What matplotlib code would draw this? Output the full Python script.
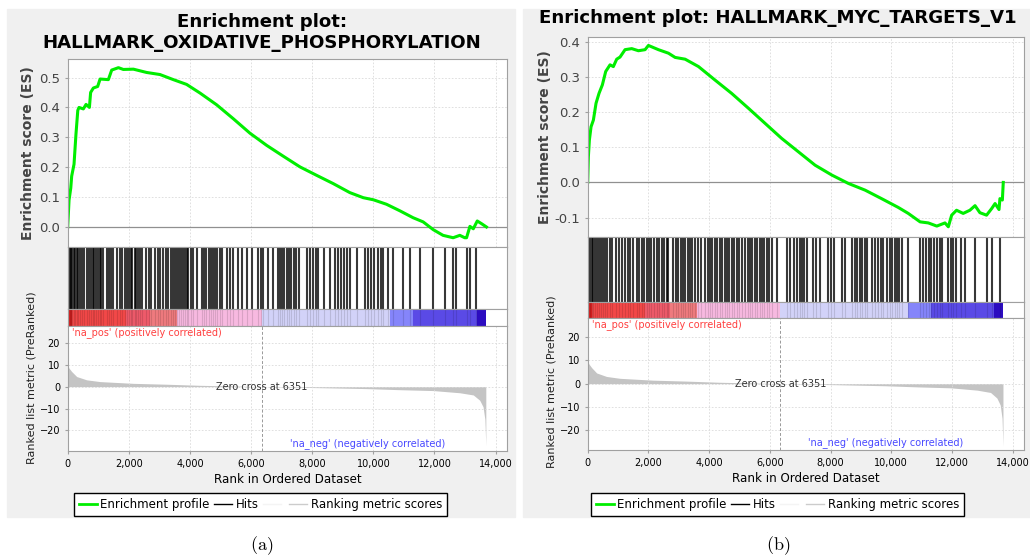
import matplotlib.pyplot as plt
from matplotlib.lines import Line2D
from matplotlib.patches import Rectangle
from matplotlib.ticker import FuncFormatter, MultipleLocator, FormatStrFormatter

plt.rcParams['font.family'] = ['DejaVu Sans']
plt.rcParams['mathtext.fontset'] = 'cm'

W, H = 1030, 558

# ranked list metric (same ranked list for both gene sets)
metric_rank = [0, 40, 130, 295, 620, 1060, 2150, 3240, 4330, 5420, 6351, 7600,
               8690, 9780, 10870, 11960, 12830, 13270, 13480, 13590, 13650, 13680]
metric_value = [10.0, 8.5, 6.9, 4.6, 3.1, 2.3, 1.5, 1.1, 0.6, 0.3, 0.0, -0.3,
                -0.6, -0.9, -1.4, -1.8, -2.8, -3.8, -6.2, -9.2, -15.0, -27.0]
zero_cross = 6351

# colour bar below the hits
cbar_edges = [0, 150, 1900, 2700, 3590, 6351, 10550, 11300, 13380, 13680]
cbar_colors = ['#d42020', '#f24848', '#ee5a6a', '#ef7a7e', '#f7b9e0',
               '#d2d2f8', '#8585fa', '#5a4ae6', '#2c0cc0']

# HALLMARK_OXIDATIVE_PHOSPHORYLATION
oxphos_rank = [0, 44, 100, 130, 207, 270, 330, 370, 512, 600, 710, 750, 840, 980,
               1060, 1330, 1440, 1660, 1820, 2150, 2580, 3020, 3455, 3890, 4330,
               4870, 5420, 5960, 6510, 7050, 7600, 8140, 8690, 9230, 9670, 10000,
               10430, 10870, 11300, 11630, 11960, 12280, 12610, 12830, 12990,
               13050, 13160, 13270, 13400, 13540, 13700]
oxphos_es = [0.0, 0.09, 0.13, 0.17, 0.21, 0.31, 0.39, 0.40, 0.395, 0.41, 0.40,
             0.45, 0.465, 0.47, 0.495, 0.493, 0.525, 0.533, 0.527, 0.528, 0.517,
             0.51, 0.493, 0.477, 0.448, 0.409, 0.362, 0.314, 0.273, 0.237, 0.201,
             0.173, 0.145, 0.115, 0.098, 0.091, 0.076, 0.054, 0.031, 0.017,
             -0.009, -0.028, -0.036, -0.028, -0.036, -0.036, 0.002, -0.006,
             0.02, 0.011, 0.0]
oxphos_hits = [20, 60, 110, 150, 200, 250, 300, 340, 390, 470, 520, 640, 700, 760,
               820, 870, 930, 990, 1050, 1100, 1150, 1290, 1350, 1420, 1480, 1620,
               1700, 1790, 1880, 1940, 2000, 2060, 2120, 2190, 2250, 2310, 2380,
               2440, 2570, 2650, 2740, 2860, 2940, 3010, 3130, 3210, 3290, 3370,
               3440, 3520, 3580, 3640, 3700, 3760, 3830, 3890, 3950, 4020, 4090,
               4230, 4400, 4470, 4540, 4610, 4680, 4750, 4830, 4900, 4970, 5050,
               5210, 5300, 5410, 5570, 5700, 5870, 6030, 6240, 6320, 6390, 6560,
               6720, 6880, 6950, 7020, 7090, 7160, 7240, 7320, 7400, 7480, 7560,
               7840, 7930, 8020, 8110, 8200, 8390, 8580, 8750, 8850, 8950, 9050,
               9150, 9240, 9465, 9740, 9830, 9920, 10010, 10160, 10240, 10310,
               10480, 10640, 10970, 11200, 11525, 11950, 12345, 12620, 12700,
               13060, 13160, 13360]

# HALLMARK_MYC_TARGETS_V1
myc_rank = [0, 22, 55, 110, 187, 275, 373, 483, 593, 736, 845, 955, 1065, 1230,
            1450, 1670, 1890, 2000, 2330, 2660, 2880, 3210, 3650, 4190, 4740,
            5290, 5840, 6390, 6940, 7490, 8040, 8590, 9140, 9680, 10230, 10560,
            10950, 11220, 11500, 11770, 11880, 11990, 12150, 12370, 12590, 12760,
            12920, 13140, 13310, 13420, 13550, 13580, 13660, 13690]
myc_es = [0.0, 0.073, 0.12, 0.158, 0.177, 0.225, 0.253, 0.277, 0.315, 0.334,
          0.329, 0.35, 0.356, 0.377, 0.38, 0.374, 0.377, 0.389, 0.377, 0.367,
          0.355, 0.35, 0.329, 0.291, 0.253, 0.211, 0.168, 0.125, 0.087, 0.049,
          0.021, -0.003, -0.022, -0.046, -0.071, -0.088, -0.112, -0.115, -0.124,
          -0.115, -0.126, -0.093, -0.079, -0.088, -0.079, -0.066, -0.086,
          -0.093, -0.074, -0.06, -0.077, -0.046, -0.05, 0.0]
myc_hits = [20, 70, 130, 190, 250, 310, 380, 440, 510, 580, 650, 720, 790, 940,
            1030, 1120, 1240, 1320, 1400, 1480, 1630, 1700, 1780, 1860, 1940,
            2020, 2100, 2200, 2280, 2360, 2440, 2520, 2600, 2660, 2820, 2900,
            2980, 3060, 3140, 3220, 3300, 3370, 3450, 3540, 3630, 3720, 3870,
            3950, 4030, 4110, 4190, 4270, 4350, 4430, 4510, 4590, 4670, 4750,
            4830, 4910, 5000, 5090, 5180, 5270, 5350, 5420, 5500, 5580, 5660,
            5740, 5820, 5900, 5980, 6060, 6240, 6580, 6680, 6780, 6880, 6980,
            7060, 7140, 7220, 7430, 7530, 7640, 7900, 8000, 8100, 8380, 8480,
            8720, 8800, 8880, 8960, 9040, 9120, 9200, 9380, 9470, 9560, 9650,
            9730, 9870, 9950, 10030, 10110, 10190, 10270, 10350, 10550, 10960,
            11050, 11140, 11230, 11320, 11410, 11500, 11590, 11680, 11880, 11960,
            12040, 12120, 12300, 12440, 12770, 13160, 13330, 13590]

GRID = dict(color='#dadada', linestyle=(0, (2, 2)), linewidth=0.6)
SPINE = '#a0a0a0'


def box(x0, y0, x1, y1):
    # pixel box (top-left origin) -> figure fraction
    return [x0 / W, 1 - y1 / H, (x1 - x0) / W, (y1 - y0) / H]


def style(ax):
    for s in ax.spines.values():
        s.set_color(SPINE)
        s.set_linewidth(0.8)
    ax.set_xlim(0, 14373)
    ax.xaxis.set_major_locator(MultipleLocator(2000))


def draw_panel(fig, g, ranks, es, hits, es_ylim, es_ticks):
    x0, x1 = g['x0'], g['x1']
    # ES curve
    ax1 = fig.add_axes(box(x0, g['es'], x1, g['hits']))
    style(ax1)
    ax1.grid(True, **GRID)
    ax1.axhline(0, color='#909090', lw=0.9)
    ax1.plot(ranks, es, color='#00ee00', lw=2.2)
    ax1.set_ylim(*es_ylim)
    ax1.set_yticks(es_ticks)
    ax1.yaxis.set_major_formatter(FormatStrFormatter('%.1f'))
    ax1.tick_params(axis='y', labelsize=9.5, labelcolor='#444444', length=2, color=SPINE)
    ax1.tick_params(axis='x', labelbottom=False, length=0)

    # hits
    ax2 = fig.add_axes(box(x0, g['hits'], x1, g['cbar']))
    style(ax2)
    ax2.vlines(hits, 0, 1, colors='black', lw=1.5, alpha=0.78)
    ax2.set_ylim(0, 1)
    ax2.set_xticks([])
    ax2.set_yticks([])

    # colour bar
    ax3 = fig.add_axes(box(x0, g['cbar'], x1, g['metric']))
    style(ax3)
    for a, b, c in zip(cbar_edges[:-1], cbar_edges[1:], cbar_colors):
        ax3.axvspan(a, b, color=c, lw=0)
    ax3.vlines(hits, 0, 1, colors='black', lw=0.8, alpha=0.12)
    ax3.set_ylim(0, 1)
    ax3.set_xticks([])
    ax3.set_yticks([])

    # ranked list metric
    ax4 = fig.add_axes(box(x0, g['metric'], x1, g['bottom']))
    style(ax4)
    ax4.grid(True, **GRID)
    ax4.fill_between(metric_rank, metric_value, 0, color='#c4c4c4', lw=0)
    ax4.axvline(zero_cross, color='#999999', lw=0.7, ls=(0, (3, 2)))
    ax4.set_ylim(*g['metric_ylim'])
    ax4.set_yticks([20, 10, 0, -10, -20])
    ax4.xaxis.set_major_formatter(FuncFormatter(lambda v, p: '{:,}'.format(int(v))))
    ax4.tick_params(labelsize=7, length=2, color=SPINE)
    ax4.text(zero_cross, -0.3, 'Zero cross at {}'.format(zero_cross), fontsize=7,
             ha='center', va='center', color='#333333')
    ax4.text(150, g['metric_ylim'][1] - 0.6, "'na_pos' (positively correlated)",
             fontsize=7, color='#ff4040', ha='left', va='top')
    ax4.text(9800, g['metric_ylim'][0] + 0.9, "'na_neg' (negatively correlated)",
             fontsize=7, color='#4848ff', ha='center', va='bottom')
    ax4.set_xlabel('Rank in Ordered Dataset', fontsize=8.6, labelpad=3)

    # y labels
    fig.text(g['es_lab'][0] / W, 1 - g['es_lab'][1] / H, 'Enrichment score (ES)',
             rotation=90, ha='center', va='center', fontsize=10,
             fontweight='bold', color='#444444')
    fig.text(g['m_lab'][0] / W, 1 - g['m_lab'][1] / H, 'Ranked list metric (PreRanked)',
             rotation=90, ha='center', va='center', fontsize=8, color='#222222')

    # legend
    handles = [Line2D([], [], color='#00ee00', lw=2),
               Line2D([], [], color='black', lw=1),
               Line2D([], [], color='#f4f4f4', lw=1),
               Line2D([], [], color='#cccccc', lw=1)]
    labels = ['Enrichment profile', 'Hits', '', 'Ranking metric scores']
    leg = fig.legend(handles, labels, loc='center', ncol=4,
                     bbox_to_anchor=(g['leg'][0] / W, 1 - g['leg'][1] / H),
                     fontsize=8.5, frameon=True, fancybox=False, framealpha=1,
                     edgecolor='black', handlelength=1.5, handletextpad=0.3,
                     columnspacing=0.4, borderpad=0.45, borderaxespad=0)
    leg.get_frame().set_linewidth(1.0)


fig = plt.figure(figsize=(W / 100, H / 100), dpi=100)

# grey panel backgrounds
fig.patches.append(Rectangle((7 / W, 1 - 517 / H), 508 / W, 508 / H,
                             transform=fig.transFigure, color='#f0f0f0', zorder=-10))
fig.patches.append(Rectangle((523 / W, 1 - 517 / H), 507 / W, 508 / H,
                             transform=fig.transFigure, color='#f0f0f0', zorder=-10))

left = dict(x0=67.7, x1=507, es=59, hits=247, cbar=309, metric=326, bottom=451,
            metric_ylim=(-29.4, 27.7), es_lab=(28, 153), m_lab=(32, 378), leg=(260.5, 504.5))
right = dict(x0=587.7, x1=1024, es=37, hits=237, cbar=302, metric=318, bottom=450,
             metric_ylim=(-28.6, 28.3), es_lab=(545, 137), m_lab=(552, 382), leg=(777.5, 504.5))

draw_panel(fig, left, oxphos_rank, oxphos_es, oxphos_hits, (-0.067, 0.562),
           [0.0, 0.1, 0.2, 0.3, 0.4, 0.5])
draw_panel(fig, right, myc_rank, myc_es, myc_hits, (-0.155, 0.413),
           [-0.1, 0.0, 0.1, 0.2, 0.3, 0.4])

fig.text(261.7 / W, 1 - 22 / H, 'Enrichment plot:', ha='center', va='center',
         fontsize=13.1, fontweight='bold')
fig.text(261.7 / W, 1 - 43 / H, 'HALLMARK_OXIDATIVE_PHOSPHORYLATION', ha='center',
         va='center', fontsize=13.1, fontweight='bold')
fig.text(778 / W, 1 - 18 / H, 'Enrichment plot: HALLMARK_MYC_TARGETS_V1', ha='center',
         va='center', fontsize=13.1, fontweight='bold')

fig.text(262 / W, 1 - 546 / H, r'$\mathrm{(a)}$', ha='center', va='center', fontsize=13)
fig.text(778 / W, 1 - 546 / H, r'$\mathrm{(b)}$', ha='center', va='center', fontsize=13)

fig.savefig('out.png', dpi=100)
